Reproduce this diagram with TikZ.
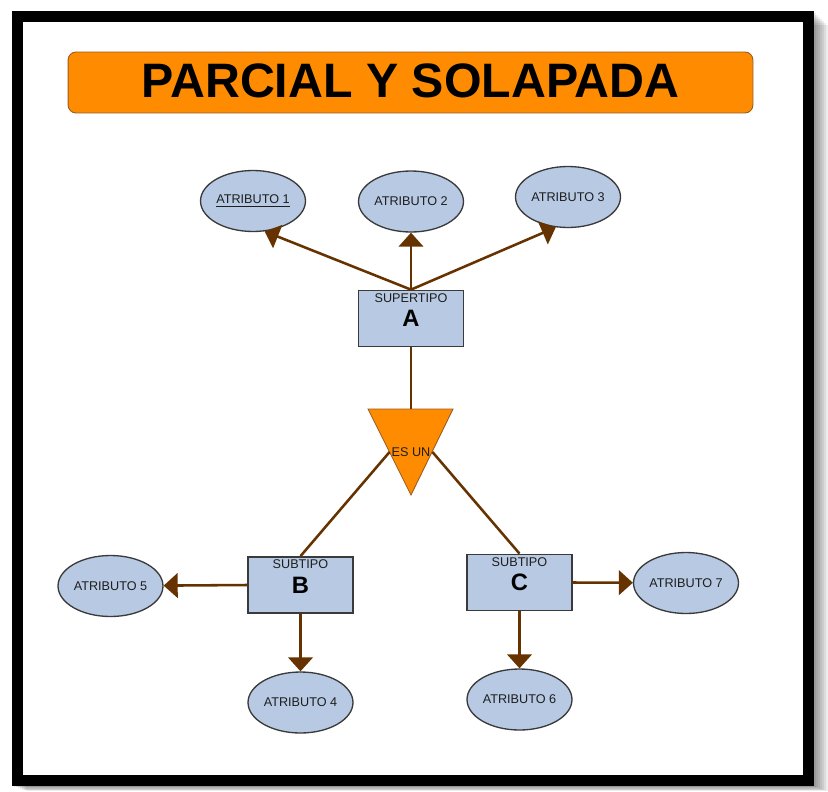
\documentclass[tikz,border=0pt]{standalone}
\usepackage{fontspec}
\setmainfont{Liberation Sans}
\usepackage{xcolor}
\usetikzlibrary{shapes.geometric,arrows.meta,positioning}
\definecolor{naranja}{HTML}{FF8C00}
\definecolor{marron}{HTML}{9A5A1E}
\definecolor{cafe}{HTML}{663300}
\definecolor{celeste}{HTML}{B7C9E3}
\definecolor{borde}{HTML}{3A3A3A}
\definecolor{texto}{HTML}{1E1E1E}

\begin{document}
\begin{tikzpicture}[x=0.02cm,y=-0.02cm,
  atrib/.style={ellipse,draw=borde,fill=celeste,line width=0.75pt,minimum width=2.1cm,minimum height=1.22cm,inner sep=0pt,text=texto,font=\fontsize{7.2}{8}\selectfont},
  tipo/.style={rectangle,draw=borde,fill=celeste,line width=1pt,minimum width=2.1cm,minimum height=1.12cm,inner sep=0pt,font=\fontsize{13.5}{15}\selectfont\bfseries},
  rotulo/.style={inner sep=1pt,text=texto,font=\fontsize{7.2}{8}\selectfont},
  flecha/.style={cafe,line width=1.45pt,-{Triangle[length=8pt,width=14pt]}},
  linea/.style={cafe,line width=1.45pt}]
\useasboundingbox (0,0) rectangle (828,791);

% marco con sombra
\foreach \d in {2,4,...,14}{
\fill[black,opacity=0.07] (12+\d,11+\d) rectangle (814+\d,786+\d/2.8);
}
\draw[line width=0.22cm,fill=white] (17.5,16.5) rectangle (808.5,780.5);

% titulo
\node[draw=marron,fill=naranja,line width=0.5pt,rounded corners=0.16cm,minimum width=13.7cm,minimum height=1.22cm,text height=19.5pt,text depth=2.5pt,font=\fontsize{27.5}{30}\selectfont\bfseries] (titulo) at (410.5,82.5) {PARCIAL Y SOLAPADA};

% atributos
\node[atrib] (at1) at (253,201) {\underline{ATRIBUTO 1}};
\foreach \n/\x/\y in {2/411/201.5,3/568/197,4/300.5/702.5,5/110.5/586,6/519.5/699.5,7/686/583}{
\node[atrib] (at\n) at (\x,\y) {ATRIBUTO \n};
}

% supertipo y subtipos
\node[tipo] (A) at (411,318.5) {A};
\node[tipo] (B) at (300.5,585) {B};
\node[tipo] (C) at (519.5,582.5) {C};
\node[rotulo,below=1pt of A.north] (supA) {SUPERTIPO};
\node[rotulo,below=1pt of B.north] (subB) {SUBTIPO};
\node[rotulo,below=1pt of C.north] (subC) {SUBTIPO};

% es un
\coordinate (tri1) at (368,409);
\coordinate (tri2) at (453,409);
\coordinate (tri3) at (411,495);
\coordinate (tritop) at (411,409);
\filldraw[fill=naranja,draw=marron,line width=0.5pt] (tri1) -- (tri2) -- (tri3) -- cycle;
\node[rotulo] (esun) at (411,452) {ES UN};

\draw[linea] (A.south) -- (tritop);
\draw[linea] (esun.west) -- (B.north);
\draw[linea] (esun.east) -- (C.north);

\foreach \a/\b in {A.north/at1.-69,A.north/at2,A.north/at3.-112,B.west/at5,B.south/at4,C.east/at7,C.south/at6}{
\draw[flecha] (\a) -- (\b);
}
\end{tikzpicture}
\end{document}
